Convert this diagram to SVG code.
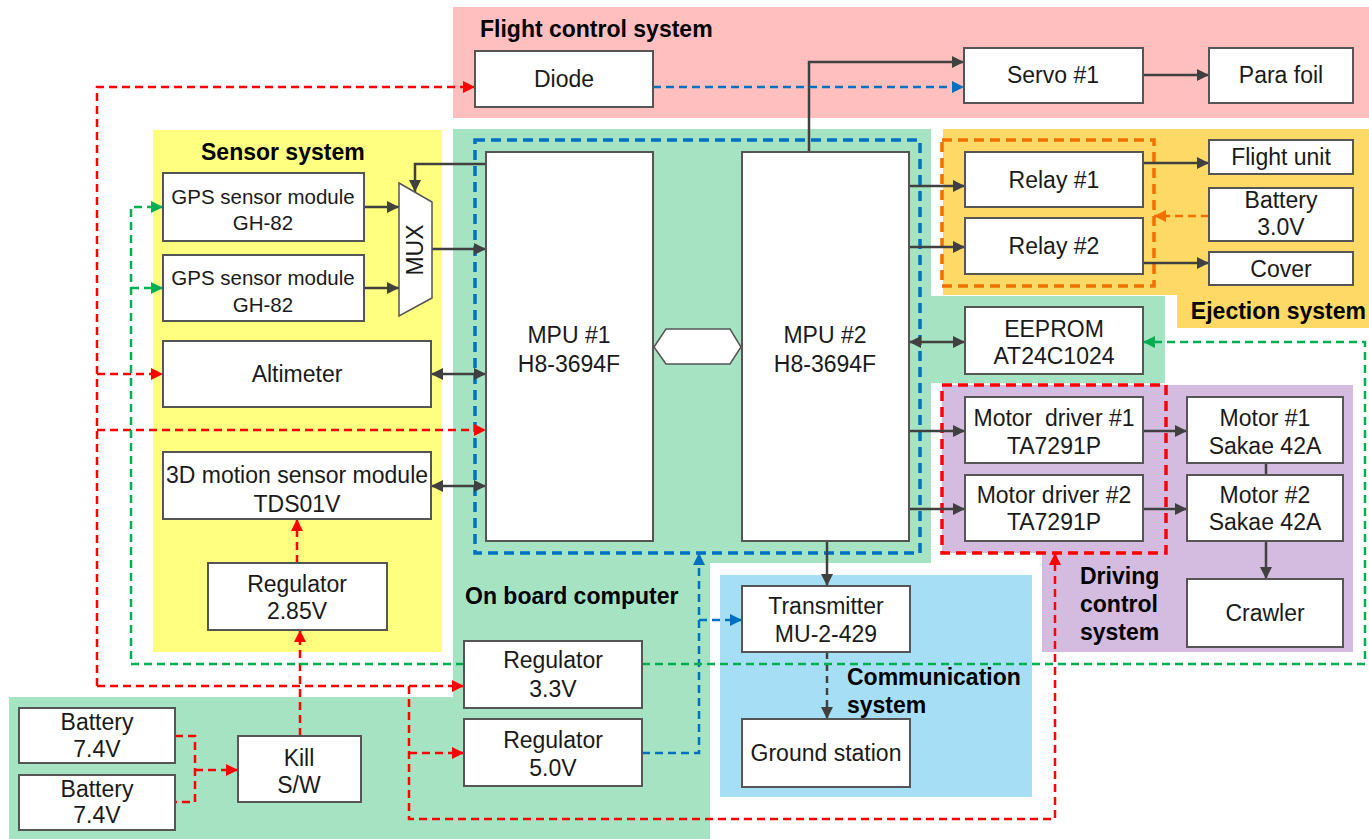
<svg xmlns="http://www.w3.org/2000/svg" width="1369" height="839" viewBox="0 0 1369 839">
<style>
.box{fill:#fff;stroke:#555;stroke-width:2}
.t{font-family:"Liberation Sans",Arial,sans-serif;font-size:23px;text-anchor:middle;fill:#1a1a1a}
.s{font-size:20.5px}
.tb{font-family:"Liberation Sans",Arial,sans-serif;font-size:23px;font-weight:bold;fill:#000}
.sl{fill:none;stroke:#404040;stroke-width:2.5}
.dk{fill:none;stroke:#404040;stroke-width:2.5;stroke-dasharray:7 5}
.dr{fill:none;stroke:#ff0000;stroke-width:2.5;stroke-dasharray:8 5}
.db{fill:none;stroke:#0070c0;stroke-width:2.5;stroke-dasharray:8 5}
.dg{fill:none;stroke:#00b050;stroke-width:2.5;stroke-dasharray:8 5}
.do{fill:none;stroke:#f07000;stroke-width:2.5;stroke-dasharray:8 5}
.rb{fill:none;stroke:#0070c0;stroke-width:3.5;stroke-dasharray:10 6}
.rr{fill:none;stroke:#ff0000;stroke-width:3.5;stroke-dasharray:10 6}
.ro{fill:none;stroke:#f07000;stroke-width:3.5;stroke-dasharray:10 6}
</style>
<defs>
<marker id="ak" viewBox="0 0 10 10" refX="10" refY="5" markerWidth="15" markerHeight="12" markerUnits="userSpaceOnUse" orient="auto-start-reverse"><path d="M0,0L10,5L0,10z" fill="#404040"/></marker>
<marker id="ar" viewBox="0 0 10 10" refX="10" refY="5" markerWidth="15" markerHeight="12" markerUnits="userSpaceOnUse" orient="auto-start-reverse"><path d="M0,0L10,5L0,10z" fill="#ff0000"/></marker>
<marker id="ab" viewBox="0 0 10 10" refX="10" refY="5" markerWidth="15" markerHeight="12" markerUnits="userSpaceOnUse" orient="auto-start-reverse"><path d="M0,0L10,5L0,10z" fill="#0070c0"/></marker>
<marker id="ag" viewBox="0 0 10 10" refX="10" refY="5" markerWidth="15" markerHeight="12" markerUnits="userSpaceOnUse" orient="auto-start-reverse"><path d="M0,0L10,5L0,10z" fill="#00b050"/></marker>
<marker id="ao" viewBox="0 0 10 10" refX="10" refY="5" markerWidth="15" markerHeight="12" markerUnits="userSpaceOnUse" orient="auto-start-reverse"><path d="M0,0L10,5L0,10z" fill="#f07000"/></marker>
</defs>
<rect width="1369" height="839" fill="#fff"/>

<g id="regions">
<rect x="453" y="7" width="916" height="111" fill="#ffbfbf"/>
<text class="tb" x="480" y="37">Flight control system</text>
<rect x="153" y="130" width="289" height="522" fill="#ffff80"/>
<text class="tb" x="201" y="160">Sensor system</text>
<polygon points="453,129 931,129 931,296 1165,296 1165,383 931,383 931,563 710,563 710,839 9,839 9,697 453,697" fill="#a6e3c2"/>
<text class="tb" x="465" y="604">On board computer</text>
<polygon points="943,129 1369,129 1369,328 1177,328 1177,295 943,295" fill="#ffd966"/>
<text class="tb" x="1366" y="319" text-anchor="end">Ejection system</text>
<polygon points="942,385 1353,385 1353,652 1042,652 1042,553 942,553" fill="#d4bce0"/>
<text class="tb" x="1080" y="584">Driving</text>
<text class="tb" x="1080" y="612">control</text>
<text class="tb" x="1080" y="640">system</text>
<rect x="720" y="575" width="312" height="222" fill="#a6dff5"/>
<text class="tb" x="847" y="685">Communication</text>
<text class="tb" x="847" y="713">system</text>
</g>

<g id="connectors">
<rect class="rb" x="475" y="140" width="445" height="413"/>
<rect class="ro" x="942" y="140" width="212" height="146"/>
<rect class="rr" x="942" y="385" width="224" height="168"/>
<path class="sl" d="M809,152V62H964" marker-end="url(#ak)"/>
<path class="sl" d="M1143,75H1209" marker-end="url(#ak)"/>
<path class="sl" d="M364,207H399" marker-end="url(#ak)"/>
<path class="sl" d="M364,288H399" marker-end="url(#ak)"/>
<path class="sl" d="M432,249H486" marker-end="url(#ak)"/>
<path class="sl" d="M486,164H415V192" marker-end="url(#ak)"/>
<path class="sl" d="M431,374H486" marker-start="url(#ak)" marker-end="url(#ak)"/>
<path class="sl" d="M431,486H486" marker-start="url(#ak)" marker-end="url(#ak)"/>
<path class="sl" d="M909,186H965" marker-end="url(#ak)"/>
<path class="sl" d="M909,247H965" marker-end="url(#ak)"/>
<path class="sl" d="M1143,163H1209" marker-end="url(#ak)"/>
<path class="sl" d="M1143,263H1209" marker-end="url(#ak)"/>
<path class="sl" d="M909,342H965" marker-start="url(#ak)" marker-end="url(#ak)"/>
<path class="sl" d="M909,431H965" marker-end="url(#ak)"/>
<path class="sl" d="M909,509H965" marker-end="url(#ak)"/>
<path class="sl" d="M1143,431H1187" marker-end="url(#ak)"/>
<path class="sl" d="M1143,509H1187" marker-end="url(#ak)"/>
<path class="sl" d="M1266,463V475"/>
<path class="sl" d="M1266,541V579" marker-end="url(#ak)"/>
<path class="sl" d="M827,541V586" marker-end="url(#ak)"/>
<path class="dk" d="M827,652V719" marker-end="url(#ak)"/>
<path class="dr" d="M97,686V87H475" marker-end="url(#ar)"/>
<path class="dr" d="M97,374H163" marker-end="url(#ar)"/>
<path class="dr" d="M97,430H486" marker-end="url(#ar)"/>
<path class="dr" d="M97,686H464" marker-end="url(#ar)"/>
<path class="dr" d="M409,686V819H1055V553" marker-end="url(#ar)"/>
<path class="dr" d="M409,753H464" marker-end="url(#ar)"/>
<path class="dr" d="M300,736V630" marker-end="url(#ar)"/>
<path class="dr" d="M297,563V519" marker-end="url(#ar)"/>
<path class="dr" d="M175,736H195V802H175"/>
<path class="dr" d="M195,770H238" marker-end="url(#ar)"/>
<path class="db" d="M653,87H964" marker-end="url(#ab)"/>
<path class="db" d="M642,753H699V553" marker-end="url(#ab)"/>
<path class="db" d="M699,620H742" marker-end="url(#ab)"/>
<path class="dg" d="M464,664H131V207H163" marker-end="url(#ag)"/>
<path class="dg" d="M131,288H163" marker-end="url(#ag)"/>
<path class="dg" d="M642,664H1365V342H1143" marker-end="url(#ag)"/>
<path class="do" d="M1209,216H1154" marker-end="url(#ao)"/>
<polygon points="654,347 666,329 730,329 741,347 730,364 666,364" fill="#fff" stroke="#555" stroke-width="1.5"/>
</g>

<g id="diode"><rect class="box" x="475" y="51" width="178" height="56"/><text class="t" x="564" y="87">Diode</text></g>
<g id="servo1"><rect class="box" x="964" y="48" width="179" height="55"/><text class="t" x="1053" y="83">Servo #1</text></g>
<g id="parafoil"><rect class="box" x="1209" y="48" width="144" height="55"/><text class="t" x="1281" y="83">Para foil</text></g>
<g id="gps1"><rect class="box" x="163" y="173" width="201" height="68"/><text class="t s" x="263" y="204">GPS sensor module</text><text class="t s" x="263" y="230">GH-82</text></g>
<g id="gps2"><rect class="box" x="163" y="255" width="201" height="66"/><text class="t s" x="263" y="285">GPS sensor module</text><text class="t s" x="263" y="312">GH-82</text></g>
<g id="mux"><polygon points="399,183 432,202 432,298 399,316" fill="#fff" stroke="#555" stroke-width="1.5"/><text class="t" transform="translate(423,250) rotate(-90)">MUX</text></g>
<g id="altimeter"><rect class="box" x="163" y="341" width="268" height="66"/><text class="t" x="297" y="382">Altimeter</text></g>
<g id="motion3d"><rect class="box" x="163" y="452" width="268" height="67"/><text class="t" x="297" y="483">3D motion sensor module</text><text class="t" x="297" y="512">TDS01V</text></g>
<g id="reg285"><rect class="box" x="208" y="563" width="179" height="67"/><text class="t" x="297" y="592">Regulator</text><text class="t" x="297" y="619">2.85V</text></g>
<g id="mpu1"><rect class="box" x="486" y="152" width="167" height="389"/><text class="t" x="569" y="343">MPU #1</text><text class="t" x="569" y="372">H8-3694F</text></g>
<g id="mpu2"><rect class="box" x="742" y="152" width="167" height="389"/><text class="t" x="825" y="343">MPU #2</text><text class="t" x="825" y="372">H8-3694F</text></g>
<g id="relay1"><rect class="box" x="965" y="152" width="178" height="55"/><text class="t" x="1054" y="188">Relay #1</text></g>
<g id="relay2"><rect class="box" x="965" y="218" width="178" height="56"/><text class="t" x="1054" y="254">Relay #2</text></g>
<g id="flightunit"><rect class="box" x="1209" y="140" width="144" height="34"/><text class="t" x="1281" y="165">Flight unit</text></g>
<g id="battery30"><rect class="box" x="1209" y="188" width="144" height="53"/><text class="t" x="1281" y="208">Battery</text><text class="t" x="1281" y="235">3.0V</text></g>
<g id="cover"><rect class="box" x="1209" y="252" width="144" height="33"/><text class="t" x="1281" y="277">Cover</text></g>
<g id="eeprom"><rect class="box" x="965" y="307" width="178" height="67"/><text class="t" x="1054" y="337">EEPROM</text><text class="t" x="1054" y="364">AT24C1024</text></g>
<g id="md1"><rect class="box" x="965" y="397" width="178" height="66"/><text class="t" x="1054" y="426" xml:space="preserve">Motor  driver #1</text><text class="t" x="1054" y="454">TA7291P</text></g>
<g id="md2"><rect class="box" x="965" y="475" width="178" height="66"/><text class="t" x="1054" y="503">Motor driver #2</text><text class="t" x="1054" y="530">TA7291P</text></g>
<g id="motor1"><rect class="box" x="1187" y="397" width="156" height="66"/><text class="t" x="1265" y="426">Motor #1</text><text class="t" x="1265" y="454">Sakae 42A</text></g>
<g id="motor2"><rect class="box" x="1187" y="475" width="156" height="66"/><text class="t" x="1265" y="503">Motor #2</text><text class="t" x="1265" y="530">Sakae 42A</text></g>
<g id="crawler"><rect class="box" x="1187" y="579" width="156" height="68"/><text class="t" x="1265" y="621">Crawler</text></g>
<g id="transmitter"><rect class="box" x="742" y="586" width="168" height="66"/><text class="t" x="826" y="614">Transmitter</text><text class="t" x="826" y="642">MU-2-429</text></g>
<g id="ground"><rect class="box" x="742" y="719" width="168" height="68"/><text class="t" x="826" y="761">Ground station</text></g>
<g id="reg33"><rect class="box" x="464" y="641" width="178" height="67"/><text class="t" x="553" y="668">Regulator</text><text class="t" x="553" y="697">3.3V</text></g>
<g id="reg50"><rect class="box" x="464" y="719" width="178" height="67"/><text class="t" x="553" y="748">Regulator</text><text class="t" x="553" y="776">5.0V</text></g>
<g id="killsw"><rect class="box" x="238" y="736" width="123" height="66"/><text class="t" x="299" y="766">Kill</text><text class="t" x="299" y="793">S/W</text></g>
<g id="battery1"><rect class="box" x="19" y="708" width="156" height="55"/><text class="t" x="97" y="730">Battery</text><text class="t" x="97" y="757">7.4V</text></g>
<g id="battery2"><rect class="box" x="19" y="775" width="156" height="55"/><text class="t" x="97" y="797">Battery</text><text class="t" x="97" y="823">7.4V</text></g>
</svg>
